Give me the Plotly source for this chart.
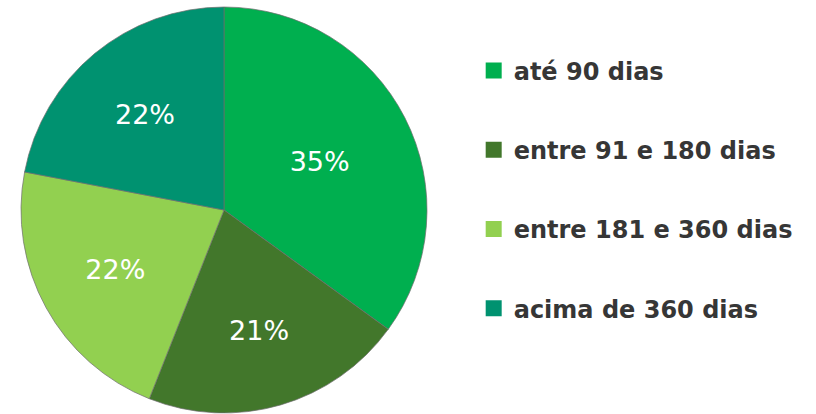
import plotly.graph_objects as go

categories = ["até 90 dias", "entre 91 e 180 dias", "entre 181 e 360 dias", "acima de 360 dias"]
values = [35, 21, 22, 22]
colors = ["#00AF4F", "#42772B", "#92D050", "#009270"]

fig = go.Figure()
fig.add_trace(go.Pie(
    labels=categories, values=values, sort=False, direction="clockwise", rotation=0,
    marker=dict(colors=colors, line=dict(color="rgba(110,110,110,0.7)", width=1)),
    texttemplate="%{value}%", textposition="inside", insidetextorientation="horizontal",
    textfont=dict(family="DejaVu Sans", size=27, color="white"),
    showlegend=False, hoverinfo="label+percent",
    domain=dict(x=[21/816, 427/816], y=[1/414, 407/414]),
))
for i, (c, col) in enumerate(zip(categories, colors)):
    fig.add_trace(go.Scatter(
        x=[None], y=[None], mode="markers", name=c,
        marker=dict(symbol="square", size=17, color=col, line=dict(width=0)),
        legendgroup=f"g{i}", showlegend=True,
    ))

fig.update_layout(
    width=816, height=414, margin=dict(l=0, r=0, t=0, b=0),
    paper_bgcolor="white", plot_bgcolor="white",
    xaxis=dict(visible=False), yaxis=dict(visible=False),
    legend=dict(x=0.5805, y=0.883, xanchor="left", yanchor="top",
                font=dict(family="DejaVu Sans", size=24, color="#363636", weight=700),
                tracegroupgap=45, itemsizing="trace", bgcolor="rgba(0,0,0,0)"),
)
fig.write_html("out.html")
